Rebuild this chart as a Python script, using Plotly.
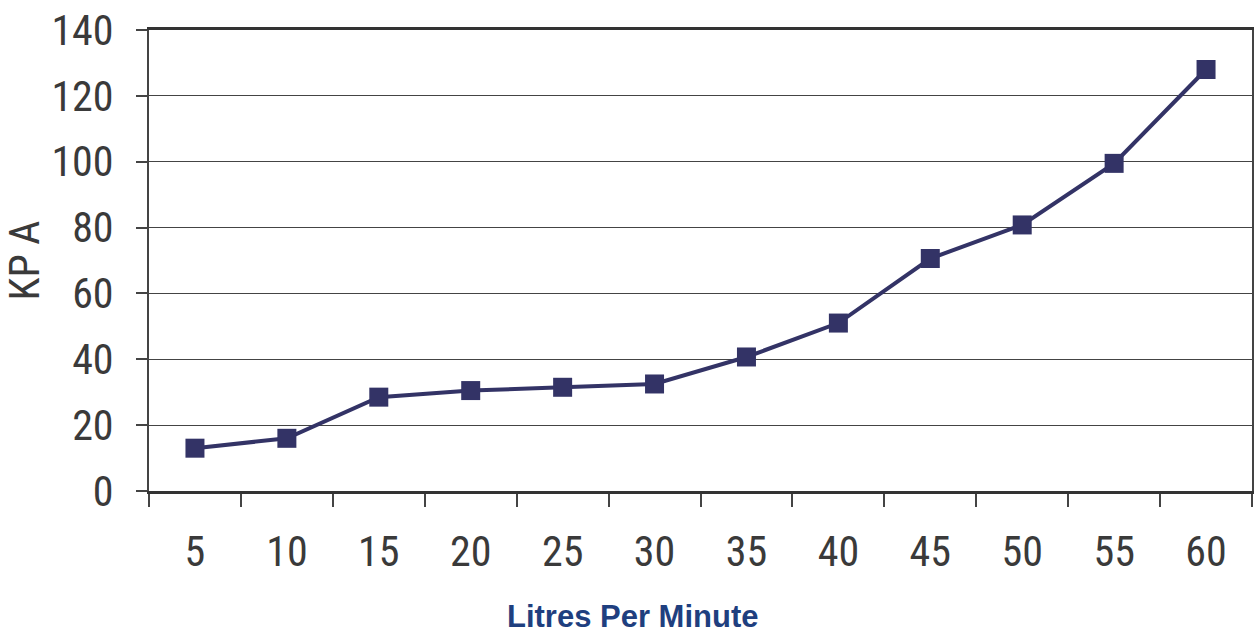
import plotly.graph_objects as go

flow_lpm = ["5", "10", "15", "20", "25", "30", "35", "40", "45", "50", "55", "60"]
pressure_kpa = [13, 16, 28.5, 30.5, 31.5, 32.5, 40.7, 51, 70.6, 80.8, 99.5, 128]
y_ticks = [0, 20, 40, 60, 80, 100, 120, 140]

NARROW = "Liberation Sans Narrow, Arial Narrow, Roboto Condensed, sans-serif"
TXT = "#3a3a3a"

fig = go.Figure(go.Scatter(
    x=flow_lpm, y=pressure_kpa, mode="lines+markers",
    line=dict(color="#333366", width=4),
    marker=dict(symbol="square", size=19, color="#333366"),
    showlegend=False,
))

fig.update_layout(
    width=1255, height=633,
    margin=dict(l=149, r=1, t=30, b=142),
    paper_bgcolor="white", plot_bgcolor="white",
    font=dict(family=NARROW, size=42, color=TXT),
)
fig.update_xaxes(
    type="category", tickson="boundaries",
    range=[-0.5, len(flow_lpm) - 0.5],
    ticks="outside", ticklen=13, tickwidth=1.5, tickcolor="#444",
    ticklabelstandoff=22,
    showline=True, linecolor="#333", linewidth=2.5, mirror=True,
    showgrid=False, zeroline=False,
    tickfont=dict(family=NARROW, size=42, color=TXT),
)
fig.update_yaxes(
    range=[0, 140], tickvals=y_ticks,
    ticks="outside", ticklen=11, tickwidth=1.5, tickcolor="#444",
    ticklabelstandoff=14,
    showline=True, linecolor="#444", linewidth=2, mirror=True,
    showgrid=True, gridcolor="#444", gridwidth=1, zeroline=False,
    tickfont=dict(family=NARROW, size=42, color=TXT),
    title=dict(text="KP A", font=dict(family=NARROW, size=42, color=TXT), standoff=14),
)
fig.add_annotation(
    text="<b>Litres Per Minute</b>", xref="paper", yref="paper",
    x=(634 - 149) / (1254 - 149), y=(491 - 616) / (491 - 30),
    xanchor="center", yanchor="middle", showarrow=False,
    font=dict(family="Liberation Sans, Arial, sans-serif", size=31, color="#1f3f7f"),
)

fig.write_html("out.html", config={"displayModeBar": False})
with open("out.html", "r", encoding="utf-8") as f:
    html = f.read()
html = html.replace("<head>", "<head><style>html,body{margin:0;padding:0;overflow:hidden}</style>", 1)
with open("out.html", "w", encoding="utf-8") as f:
    f.write(html)
